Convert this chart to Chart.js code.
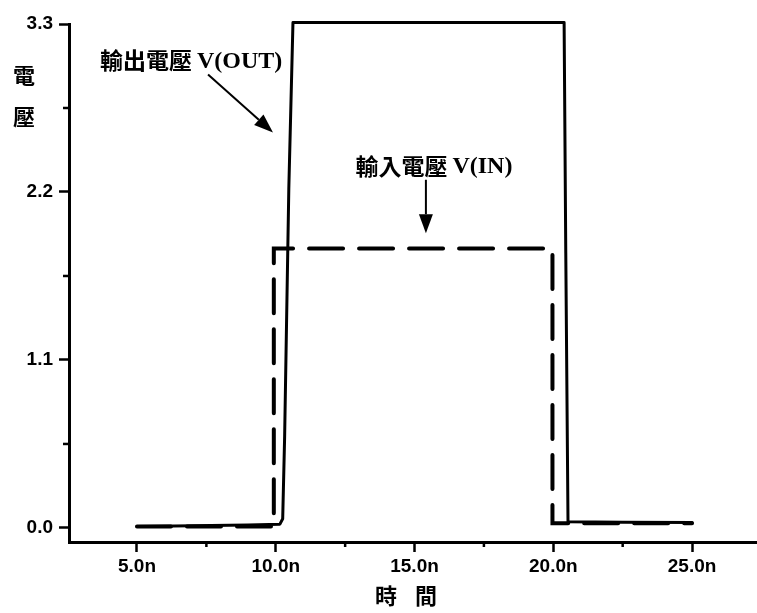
<!DOCTYPE html>
<html>
<head>
<meta charset="utf-8">
<script src="https://cdn.jsdelivr.net/npm/chart.js@4.4.1/dist/chart.umd.min.js"></script>
<style>
html,body{margin:0;padding:0;background:#fff;}
#wrap{width:757px;height:613px;position:relative;}
</style>
</head>
<body>
<div id="wrap"><canvas id="c" width="757" height="613"></canvas></div>
<script>
// ---- data (time in ns, voltage in V) ----
const outTime = [5.0, 7.0, 9.0, 10.15, 10.25, 10.32, 10.47, 10.62, 15.0, 20.39, 20.45, 20.53, 22.5, 25.0];
const outVolt = [0.01, 0.015, 0.02, 0.025, 0.06, 0.6, 2.22, 3.31, 3.31, 3.31, 1.8, 0.04, 0.037, 0.035];
const inTime = [5.0, 9.93, 9.93, 19.97, 19.97, 25.0];
const inVolt = [0.01, 0.01, 1.83, 1.83, 0.03, 0.03];
const xTicks = [5, 10, 15, 20, 25];
const xMinorTicks = [7.5, 12.5, 17.5, 22.5];
const yTicks = [0.0, 1.1, 2.2, 3.3];
const yMinorTicks = [0.55, 1.65, 2.75];
const labelOut = {cjk: '輸出電壓', lat: 'V(OUT)', x: 6.95, y: 3.06};
const labelIn = {cjk: '輸入電壓', lat: 'V(IN)', x: 15.7, y: 2.37};
const arrowOut = {x1: 7.56, y1: 2.97, x2: 9.90, y2: 2.59};
const arrowIn = {x1: 15.41, y1: 2.28, x2: 15.41, y2: 1.93};

const toPts = (xs, ys) => xs.map((x, i) => ({x, y: ys[i]}));

const tickFont = {family: '"Liberation Sans", Arial, sans-serif', size: 19, weight: 'bold'};

function drawArrow(ctx, x1, y1, x2, y2) {
  const ang = Math.atan2(y2 - y1, x2 - x1);
  const hl = 19, hw = 7;
  ctx.save();
  ctx.strokeStyle = '#000'; ctx.fillStyle = '#000'; ctx.lineWidth = 2;
  ctx.beginPath();
  ctx.moveTo(x1, y1);
  ctx.lineTo(x2 - hl * Math.cos(ang), y2 - hl * Math.sin(ang));
  ctx.stroke();
  ctx.beginPath();
  ctx.moveTo(x2, y2);
  ctx.lineTo(x2 - hl * Math.cos(ang) + hw * Math.sin(ang), y2 - hl * Math.sin(ang) - hw * Math.cos(ang));
  ctx.lineTo(x2 - hl * Math.cos(ang) - hw * Math.sin(ang), y2 - hl * Math.sin(ang) + hw * Math.cos(ang));
  ctx.closePath();
  ctx.fill();
  ctx.restore();
}

function drawLabel(ctx, lab, sx, sy) {
  const cx = sx.getPixelForValue(lab.x), cy = sy.getPixelForValue(lab.y);
  ctx.save();
  ctx.fillStyle = '#000';
  ctx.textBaseline = 'middle';
  const fCjk = 'bold 23px "Noto Sans CJK TC"';
  const fLat = 'bold 24px "Liberation Serif", "Times New Roman", serif';
  ctx.font = fCjk; const w1 = ctx.measureText(lab.cjk).width;
  ctx.font = fLat; const w2 = ctx.measureText(lab.lat).width;
  const gap = 5;
  const left = cx - (w1 + gap + w2) / 2;
  ctx.textAlign = 'left';
  ctx.font = fCjk; ctx.fillText(lab.cjk, left, cy);
  ctx.font = fLat; ctx.fillText(lab.lat, left + w1 + gap, cy + 1);
  ctx.restore();
}

const decor = {
  id: 'decor',
  afterDraw(chart) {
    const ctx = chart.ctx, sx = chart.scales.x, sy = chart.scales.y;
    const ca = chart.chartArea;
    ctx.save();
    ctx.strokeStyle = '#000'; ctx.lineWidth = 2.5;
    xMinorTicks.forEach(v => {
      const p = sx.getPixelForValue(v);
      ctx.beginPath(); ctx.moveTo(p, ca.bottom); ctx.lineTo(p, ca.bottom + 5); ctx.stroke();
    });
    yMinorTicks.forEach(v => {
      const p = sy.getPixelForValue(v);
      ctx.beginPath(); ctx.moveTo(ca.left, p); ctx.lineTo(ca.left - 6, p); ctx.stroke();
    });
    ctx.restore();
    drawLabel(ctx, labelOut, sx, sy);
    drawLabel(ctx, labelIn, sx, sy);
    drawArrow(ctx, sx.getPixelForValue(arrowOut.x1), sy.getPixelForValue(arrowOut.y1), sx.getPixelForValue(arrowOut.x2), sy.getPixelForValue(arrowOut.y2));
    drawArrow(ctx, sx.getPixelForValue(arrowIn.x1), sy.getPixelForValue(arrowIn.y1), sx.getPixelForValue(arrowIn.x2), sy.getPixelForValue(arrowIn.y2));
    // axis titles
    ctx.save();
    ctx.fillStyle = '#000';
    ctx.textAlign = 'center'; ctx.textBaseline = 'middle';
    ctx.font = 'bold 22px "Noto Sans CJK TC"';
    ctx.fillText('電', 24, 76);
    ctx.fillText('壓', 24, 117);
    ctx.fillText('時', 386, 596);
    ctx.fillText('間', 426, 596);
    ctx.restore();
  }
};

new Chart(document.getElementById('c'), {
  type: 'line',
  data: {
    datasets: [
      {label: 'V(OUT)', data: toPts(outTime, outVolt), borderColor: '#000', borderWidth: 3, pointRadius: 0, tension: 0, fill: false, borderJoinStyle: 'round', borderCapStyle: 'round', clip: false},
      {label: 'V(IN)', data: toPts(inTime, inVolt), borderColor: '#000', borderWidth: 4, borderDash: [34, 16], pointRadius: 0, tension: 0, fill: false, borderCapStyle: 'round', clip: false}
    ]
  },
  options: {
    responsive: false,
    animation: false,
    layout: {padding: {top: 24, left: 0, right: 0, bottom: 0}},
    plugins: {legend: {display: false}, tooltip: {enabled: false}},
    scales: {
      x: {
        type: 'linear', min: 2.55, max: 27.34,
        afterBuildTicks: s => { s.ticks = xTicks.map(v => ({value: v})); },
        afterFit: s => { s.height = 71; },
        ticks: {color: '#000', font: tickFont, padding: 3, maxRotation: 0, callback: v => v.toFixed(1) + 'n'},
        grid: {drawOnChartArea: false, drawTicks: true, tickLength: 10, tickWidth: 2.5, tickColor: '#000'},
        border: {color: '#000', width: 3}
      },
      y: {
        type: 'linear', min: -0.092, max: 3.3,
        afterBuildTicks: s => { s.ticks = yTicks.map(v => ({value: v})); },
        afterFit: s => { s.width = 69; },
        ticks: {color: '#000', font: tickFont, padding: 6, callback: v => v.toFixed(1)},
        grid: {drawOnChartArea: false, drawTicks: true, tickLength: 10, tickWidth: 2.5, tickColor: '#000'},
        border: {color: '#000', width: 3}
      }
    }
  },
  plugins: [decor]
});
</script>
</body>
</html>
